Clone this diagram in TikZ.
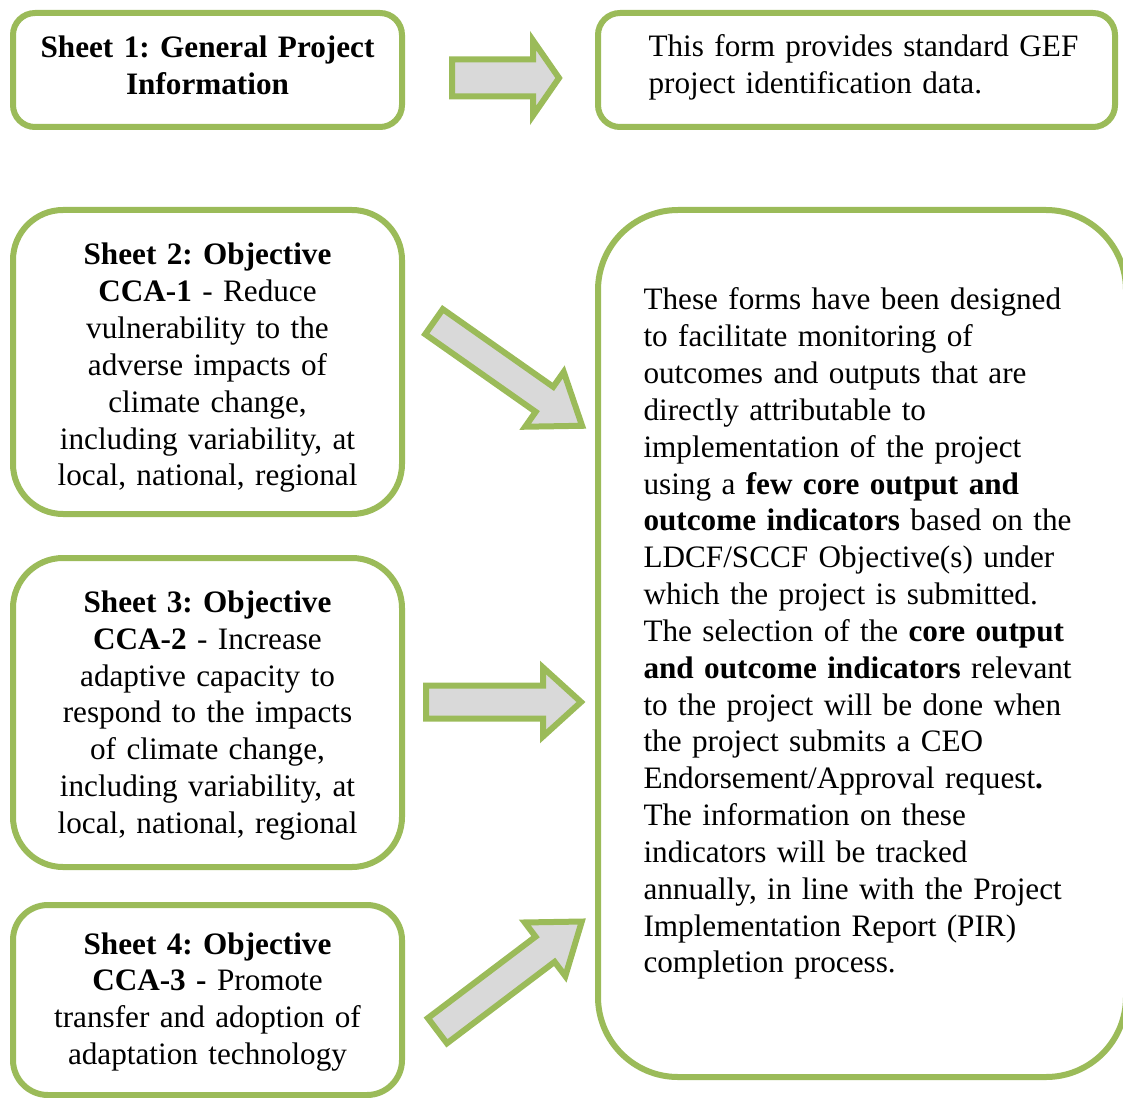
\documentclass[tikz,border=0pt]{standalone}
\usepackage{fontspec}
\setmainfont{Liberation Serif}
\definecolor{ogreen}{HTML}{9BBB59}
\definecolor{agray}{HTML}{D9D9D9}
\tikzset{
  sbox/.style n args={3}{draw=ogreen, line width=2.25pt, fill=white, inner sep=0pt,
    minimum width=#1*0.375pt, minimum height=#2*0.375pt, rounded corners=#3*0.375pt},
  txt/.style={inner sep=0pt, font=\fontsize{11.7}{13.81}\selectfont\frenchspacing, text width=#1*0.375pt},
  ctxt/.style={txt=#1, align=center, anchor=base},
  ltxt/.style={txt=#1, align=left, anchor=base west},
  pics/blockarrow/.style n args={4}{code={
    \draw[draw=ogreen, fill=agray, line width=2.25pt, miter limit=10]
      (0,-#3) -- (#1-#2,-#3) -- (#1-#2,-#4) -- (#1,0) -- (#1-#2,#4) -- (#1-#2,#3) -- (0,#3) -- cycle;
  }},
}
\begin{document}
\begin{tikzpicture}[x=0.375pt,y=-0.375pt]
\useasboundingbox (0,0) rectangle (1123,1098);
\clip (0,0) rectangle (1123,1098);

% boxes
\node[sbox={389}{114}{22}] (s1) at (207.5,70) {};
\node[sbox={517}{114}{22}] (r1) at (856.5,70) {};
\node[sbox={389}{304}{50}] (s2) at (207.5,362) {};
\node[sbox={389}{309}{50}] (s3) at (207.5,712.5) {};
\node[sbox={389}{190}{35}] (s4) at (207.5,1000) {};
\node[sbox={528}{867}{80}] (r2) at (862,643.5) {};

% texts
\node[ctxt=380] (t1) at (207.5,57.5) {\textbf{Sheet 1: General Project}\\\textbf{Information}};
\node[ltxt=470] (tr1) at (648,57) {This form provides standard GEF\\project identification data.};
\node[ctxt=380] (t2) at (207.5,265) {\textbf{Sheet 2: Objective}\\\textbf{CCA-1} - Reduce\\vulnerability to the\\adverse impacts of\\climate change,\\including variability, at\\local, national, regional};
\node[ctxt=380] (t3) at (207.5,612.5) {\textbf{Sheet 3: Objective}\\\textbf{CCA-2} - Increase\\adaptive capacity to\\respond to the impacts\\of climate change,\\including variability, at\\local, national, regional};
\node[ctxt=380] (t4) at (207.5,954) {\textbf{Sheet 4: Objective}\\\textbf{CCA-3 -} Promote\\transfer and adoption of\\adaptation technology};
\node[ltxt=470] (tr2) at (643,310) {These forms have been designed\\to facilitate monitoring of\\outcomes and outputs that are\\directly attributable to\\implementation of the project\\using a \textbf{few core output and}\\\textbf{outcome indicators} based on the\\LDCF/SCCF Objective(s) under\\which the project is submitted.\\The selection of the \textbf{core output}\\\textbf{and outcome indicators} relevant\\to the project will be done when\\the project submits a CEO\\Endorsement/Approval request\textbf{.}\\The information on these\\indicators will be tracked\\annually, in line with the Project\\Implementation Report (PIR)\\completion process.};

% block arrows
\pic at (452,78) {blockarrow={107}{26}{18.5}{37.5}};
\pic[rotate=-35.1] at (434,321.7) {blockarrow={181}{46}{15.3}{33.5}};
\pic at (426,702) {blockarrow={155}{38}{16.5}{34.5}};
\pic[rotate=37.1] at (437.4,1030.7) {blockarrow={181}{46}{15.8}{33.6}};
\end{tikzpicture}
\end{document}
